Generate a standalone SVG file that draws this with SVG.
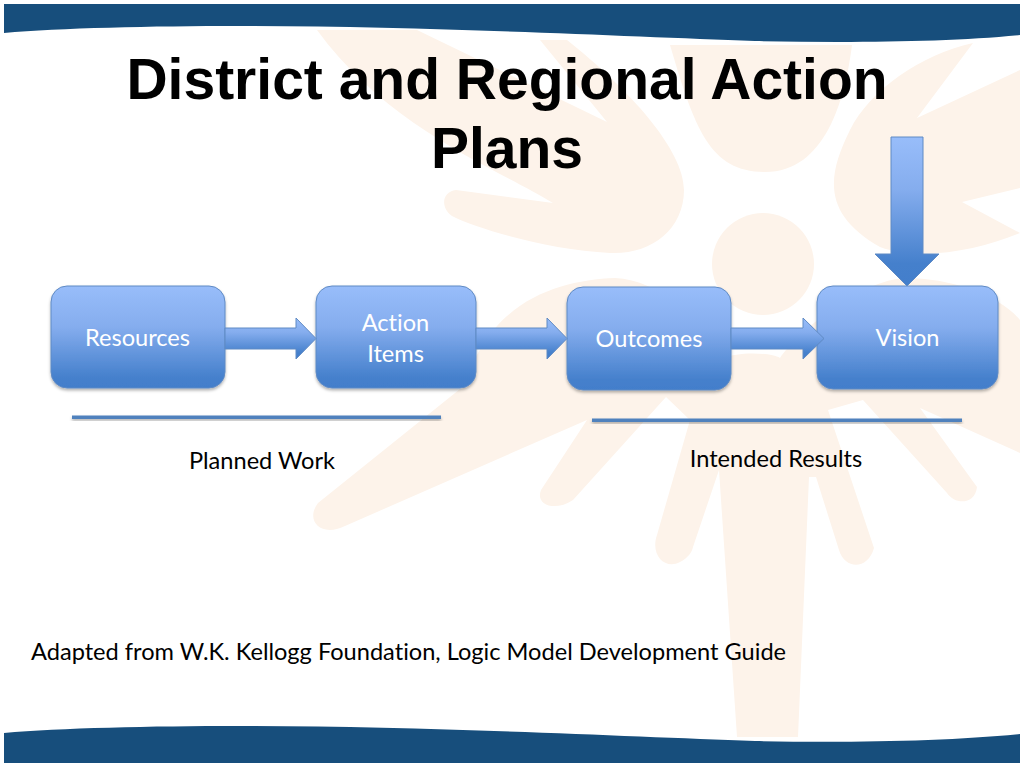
<svg xmlns="http://www.w3.org/2000/svg" width="1024" height="768" viewBox="0 0 1024 768">
<defs>
<linearGradient id="g" x1="0" y1="0" x2="0" y2="1"><stop offset="0" stop-color="#98bdfa"/><stop offset="0.4" stop-color="#85adee"/><stop offset="0.9" stop-color="#4580cc"/><stop offset="1" stop-color="#437ecb"/></linearGradient>
<linearGradient id="gd" x1="0" y1="0" x2="0" y2="1"><stop offset="0" stop-color="#98bdfa"/><stop offset="0.35" stop-color="#85adee"/><stop offset="0.85" stop-color="#4580cc"/><stop offset="1" stop-color="#437ecb"/></linearGradient>
<filter id="s" x="-10%" y="-20%" width="120%" height="150%"><feDropShadow dx="0" dy="2" stdDeviation="1.5" flood-color="#000" flood-opacity="0.3"/></filter>
</defs>
<style>
.n{fill:url(#g);stroke:#5f8ac4;stroke-width:1;filter:url(#s)}
.a{fill:url(#gd);stroke:#5f8ac4;stroke-width:1}
text{font-family:Lato,"Open Sans",sans-serif;font-size:23.6px;text-anchor:middle;font-variant-ligatures:none}
.l{fill:#fff}
.t{fill:#000}
.h{font-family:"Liberation Sans",Arial,sans-serif;font-weight:bold;font-size:57px;fill:#000}
.r{fill:#4f81bd;filter:url(#s)}
.b{fill:#fdf3ea}
.w{fill:#174e7c}
</style>
<rect width="1024" height="768" fill="#fff"/>
<g id="background">
<circle class="b" cx="763" cy="264" r="51"/>
<path class="b" d="M317 30H417L607 122L540 40H567C630 90 684 150 684 190C684 230 650 255 610 253C550 250 480 230 452 216C440 207 442 192 456 190L553 203C500 170 390 130 317 30Z"/>
<path class="b" d="M670 45H852C845 100 825 172 765 172C710 172 695 130 670 45Z"/>
<path class="b" d="M973 43C920 55 870 90 850 130C825 180 825 215 880 247C920 262 980 250 1020 233L962 202L1020 188V70L917 118Z"/>
<path class="b" d="M615 278C560 280 490 300 465 385L318 503C305 520 320 538 345 526L587 420L541 490C535 505 555 512 573 500L666 397L690 420L657 535C650 555 665 570 680 562C688 558 692 552 693 547L719 470L737 737H798L809 477H816L839 550C845 570 868 570 874 548L828 410L863 400L947 493C955 505 975 505 977 487L920 408L1020 453V320C1000 295 950 278 906 278C860 280 800 330 780 358C770 352 735 352 725 358C700 320 660 280 615 278Z"/>
</g>
<path id="top-band" class="w" d="M4 4H1020V35C950 42 850 43 755 41C620 36 420 26 240 26C150 26 60 28 4 33Z"/>
<path id="bottom-band" class="w" d="M4 763V733C60 728 150 726 240 726C420 726 620 736 755 741C850 743 950 741 1020 734V763Z"/>
<text class="h" x="507" y="99">District and Regional Action</text>
<text class="h" x="507" y="168">Plans</text>
<g id="resources"><rect class="n" x="51" y="286" width="174" height="102" rx="16"/><text class="l" x="137.500" y="346">Resources</text></g>
<g id="action-items"><rect class="n" x="316" y="286" width="160" height="102" rx="16"/><text class="l" x="395.500" y="331">Action</text><text class="l" x="395.500" y="362">Items</text></g>
<g id="outcomes"><rect class="n" x="567" y="287" width="164" height="103" rx="16"/><text class="l" x="649" y="347">Outcomes</text></g>
<g id="vision"><rect class="n" x="817" y="286" width="181" height="103" rx="16"/><text class="l" x="907.500" y="346">Vision</text></g>
<g id="connectors">
<path class="a" d="M225 328H296V318L316 338.500L296 359V349H225Z"/>
<path class="a" d="M476 328H547V318L567 338.500L547 359V349H476Z"/>
<path class="a" d="M731 328H803V318L824 338.500L803 359V349H731Z"/>
<path class="a" d="M891 137H923V254H939L907 286L875 254H891Z"/>
</g>
<g id="planned-work"><rect class="r" x="72" y="415.500" width="369" height="3.500"/><text class="t" x="262" y="468.500">Planned Work</text></g>
<g id="intended-results"><rect class="r" x="592" y="418.500" width="370" height="3.500"/><text class="t" x="776" y="467">Intended Results</text></g>
<text class="t" x="31" y="660" style="text-anchor:start">Adapted from W.K. Kellogg Foundation, Logic Model Development Guide</text>
</svg>
